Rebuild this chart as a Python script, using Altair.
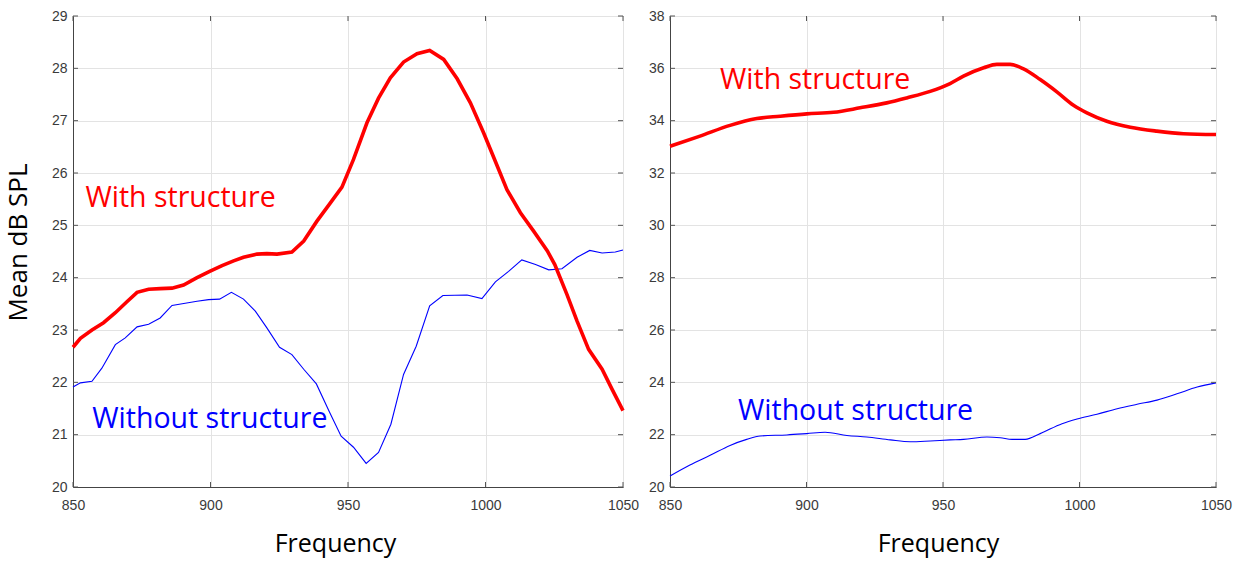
import altair as alt
import pandas as pd

# ---------------- data ----------------
x_ticks = [850, 900, 950, 1000, 1050]
left_y_ticks = [20, 21, 22, 23, 24, 25, 26, 27, 28, 29]
right_y_ticks = [20, 22, 24, 26, 28, 30, 32, 34, 36, 38]

left_with_freq = [850, 852.7, 856.9, 861.1, 865.4, 869.6, 873.3, 877.5, 881.7, 886, 890.2,
                  895.1, 899.7, 904.2, 908.4, 912, 916.9, 920.5, 924.2, 929.6, 933.9, 938.7,
                  943.6, 947.8, 952, 956.9, 961.1, 965.4, 970.2, 975.1, 979.7, 984.8, 989.7,
                  994.5, 999.3, 1003.6, 1007.8, 1012.7, 1017.5, 1022.5, 1025.2, 1029.6,
                  1033.3, 1037.5, 1042.4, 1046, 1050]
left_with_db = [22.67, 22.84, 23.00, 23.14, 23.33, 23.54, 23.72, 23.78, 23.79, 23.80, 23.86,
                24.00, 24.12, 24.23, 24.32, 24.39, 24.45, 24.46, 24.45, 24.49, 24.70, 25.08,
                25.43, 25.73, 26.26, 26.96, 27.43, 27.82, 28.12, 28.28, 28.34, 28.17, 27.80,
                27.34, 26.77, 26.22, 25.68, 25.24, 24.89, 24.51, 24.25, 23.68,
                23.17, 22.63, 22.25, 21.87, 21.46]

left_without_freq = [850, 852.7, 856.9, 860.5, 865.4, 869, 873.3, 877.5, 881.7, 886, 890.8,
                     895.1, 899.3, 903.3, 907.6, 912, 916.3, 920.5, 925.1, 929.6, 933.9, 938.5,
                     943.3, 947.5, 952, 956.6, 961.1, 965.6, 970.2, 974.8, 979.7, 984.5, 993.3,
                     998.7, 1003.6, 1008.4, 1013.2, 1018.2, 1023, 1027.8, 1033.3, 1037.9,
                     1042.4, 1047.2, 1050]
left_without_db = [21.91, 21.99, 22.02, 22.27, 22.72, 22.85, 23.06, 23.11, 23.23, 23.47, 23.51,
                   23.55, 23.58, 23.59, 23.72, 23.59, 23.36, 23.04, 22.67, 22.53, 22.25, 21.97,
                   21.43, 20.97, 20.76, 20.45, 20.66, 21.20, 22.15, 22.69, 23.46, 23.66, 23.67,
                   23.60, 23.92, 24.12, 24.34, 24.25, 24.15, 24.17, 24.39, 24.52,
                   24.47, 24.49, 24.53]

right_with_freq = [850, 861, 872, 881.8, 890.3, 900.1, 909.9, 919.6, 929.4, 936.7, 945.3,
                   952.6, 957.5, 964.9, 969.7, 974.6, 979.5, 985.6, 991.7, 997.8, 1002.7,
                   1010, 1018.6, 1028.3, 1038.1, 1050]
right_with_db = [33.02, 33.41, 33.82, 34.08, 34.17, 34.26, 34.32, 34.49, 34.68, 34.87, 35.12,
                 35.42, 35.70, 36.02, 36.15, 36.15, 35.98, 35.57, 35.10, 34.59, 34.30,
                 33.98, 33.75, 33.60, 33.50, 33.47]

right_without_freq = [850, 857.3, 864.7, 872, 878.1, 883, 892.8, 900.1, 906.8, 914.8, 922.1,
                      930.7, 938, 945.3, 952.6, 957.5, 966.1, 971, 975.3, 980.1, 985.6, 993.6,
                      999.1, 1006.4, 1013.8, 1021.1, 1028.4, 1035.7, 1043.1, 1050]
right_without_db = [20.42, 20.84, 21.21, 21.59, 21.82, 21.95, 21.99, 22.04, 22.09, 21.97, 21.91,
                    21.80, 21.73, 21.76, 21.80, 21.82, 21.91, 21.88, 21.82, 21.82, 22.04, 22.42,
                    22.60, 22.78, 22.99, 23.16, 23.32, 23.56, 23.82, 23.98]

label_texts = ["With structure", "Without structure"]
label_colors = ["#ff0000", "#0000ff"]
left_label_freq = [854.5, 857]
left_label_db = [25.52, 21.30]
right_label_freq = [868.3, 874.9]
right_label_db = [35.55, 22.90]

RED = "#ff0000"
BLUE = "#0000ff"
H = 471


def panel(wf, wdb, wof, wodb, ydom, yticks, lf, ldb, width, ytitle, interp, title_x):
    x_enc = alt.X("freq:Q",
                  scale=alt.Scale(domain=[850, 1050], nice=False, zero=False),
                  axis=alt.Axis(values=x_ticks, title="Frequency", labelFlush=False,
                                labelPadding=11, titlePadding=19, titleX=title_x,
                                format="d", gridColor="#e3e3e3"))
    yaxis_kwargs = dict(values=yticks, labelPadding=6, format="d", gridColor="#e3e3e3")
    if ytitle:
        yaxis_kwargs.update(title="Mean dB SPL", titlePadding=20, titleY=226)
    else:
        yaxis_kwargs.update(title=None)
    y_enc = alt.Y("db:Q", scale=alt.Scale(domain=ydom, nice=False, zero=False),
                  axis=alt.Axis(**yaxis_kwargs))

    with_df = pd.DataFrame({"freq": wf, "db": wdb})
    without_df = pd.DataFrame({"freq": wof, "db": wodb})
    lab_df = pd.DataFrame({"freq": lf, "db": ldb, "text": label_texts, "color": label_colors})
    xt_df = pd.DataFrame({"freq": x_ticks})
    yt_df = pd.DataFrame({"db": yticks})

    blue_line = alt.Chart(without_df).mark_line(color=BLUE, strokeWidth=1.1,
                                                interpolate=interp).encode(x=x_enc, y=y_enc)
    red_line = alt.Chart(with_df).mark_line(color=RED, strokeWidth=3.6,
                                            interpolate=interp).encode(x=x_enc, y=y_enc)
    labels = alt.Chart(lab_df).mark_text(align="left", baseline="middle", font="Open Sans",
                                         fontSize=28.5).encode(
        x=x_enc, y=y_enc, text="text:N", color=alt.Color("color:N", scale=None))
    tick_style = dict(color="#555", strokeWidth=1)
    bt = alt.Chart(xt_df).mark_rule(**tick_style).encode(
        x=x_enc, y=alt.value(H), y2=alt.value(H - 5))
    tt = alt.Chart(xt_df).mark_rule(**tick_style).encode(
        x=x_enc, y=alt.value(0), y2=alt.value(5))
    lt = alt.Chart(yt_df).mark_rule(**tick_style).encode(
        y=y_enc, x=alt.value(0), x2=alt.value(5))
    rt = alt.Chart(yt_df).mark_rule(**tick_style).encode(
        y=y_enc, x=alt.value(width - 5), x2=alt.value(width))
    return alt.layer(blue_line, red_line, labels, bt, tt, lt, rt).properties(
        width=width, height=H)


left = panel(left_with_freq, left_with_db, left_without_freq, left_without_db,
             [20, 29], left_y_ticks, left_label_freq, left_label_db, 550, True, "linear", 262)
right = panel(right_with_freq, right_with_db, right_without_freq, right_without_db,
              [20, 38], right_y_ticks, right_label_freq, right_label_db, 546, False,
              "monotone", 268)

chart = alt.hconcat(left, right, spacing=7).properties(
    padding={"left": 4, "top": 8, "right": 5, "bottom": 5},
    background="white",
).configure_view(stroke="#666", strokeWidth=1).configure_axis(
    labelFont="Liberation Sans", labelFontSize=14, labelColor="#3a3a3a",
    titleFont="Open Sans", titleFontSize=25, titleFontWeight="normal", titleColor="#000000",
    domainColor="#444", domainWidth=1, ticks=False, tickSize=0, grid=True,
).configure_axisY(titleFontSize=26)

chart.save("out.html", embed_options={"renderer": "svg", "actions": False})
